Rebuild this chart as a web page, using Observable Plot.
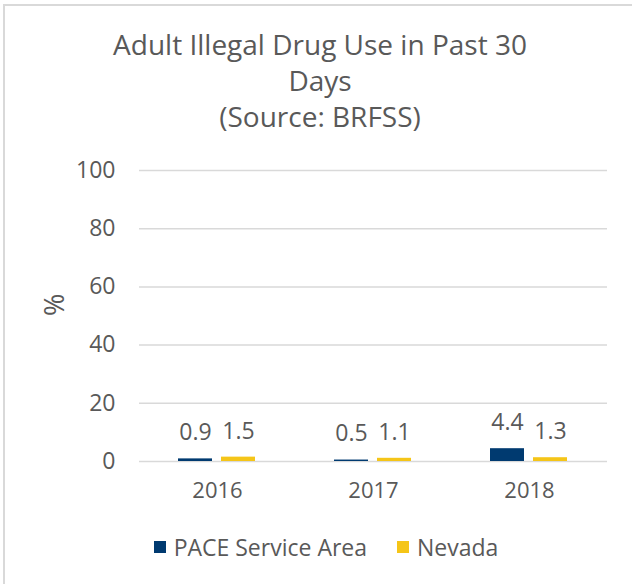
<!DOCTYPE html>
<html>
<head>
<meta charset="utf-8">
<script src="https://cdn.jsdelivr.net/npm/d3@7"></script>
<script src="https://cdn.jsdelivr.net/npm/@observablehq/plot@0.6"></script>
<style>
  html, body { margin: 0; padding: 0; background: #fff; }
  body { width: 632px; height: 584px; position: relative; overflow: hidden; font-family: "Open Sans", sans-serif; color: #595959; }
  #frame { position: absolute; left: 3px; top: 4px; width: 700px; height: 700px; border: 2px solid #d9d9d9; box-sizing: border-box; }
  #title { position: absolute; left: 0; top: 26px; width: 640px; text-align: center; font-size: 28px; line-height: 36px; }
  #chart { position: absolute; left: 0; top: 140px; }
  #legend { position: absolute; left: 0; top: 531px; width: 652px; display: flex; justify-content: center; gap: 30px; font-size: 23px; }
  .item { display: flex; align-items: center; gap: 8px; }
  .sw { width: 12px; height: 12px; display: inline-block; }
</style>
</head>
<body>
<div id="frame"></div>
<div id="title">Adult Illegal Drug Use in Past 30<br>Days<br>(Source: BRFSS)</div>
<div id="chart"></div>
<div id="legend"></div>
<script>
const years = ["2016", "2017", "2018"];
const series = ["PACE Service Area", "Nevada"];
const paceValues = [0.9, 0.5, 4.4];
const nevadaValues = [1.5, 1.1, 1.3];
const colors = ["#003A70", "#F5C518"];
const yTicks = [0, 20, 40, 60, 80, 100];

const data = [];
years.forEach((yr, i) => {
  data.push({year: yr, series: series[0], value: paceValues[i]});
  data.push({year: yr, series: series[1], value: nevadaValues[i]});
});

const chart = Plot.plot({
  width: 632,
  height: 371,
  marginLeft: 139,
  marginRight: 25,
  marginTop: 30,
  marginBottom: 50,
  style: {fontFamily: "Open Sans, sans-serif", fontSize: "22px", color: "#595959", background: "transparent"},
  fx: {domain: years, padding: 0, label: null, axis: "bottom", tickSize: 0, tickPadding: 21},
  x: {domain: series, paddingInner: 0.2, paddingOuter: 0.873, axis: null},
  y: {domain: [0, 100], ticks: yTicks, label: null},
  color: {domain: series, range: colors},
  marks: [
    Plot.ruleY(yTicks, {stroke: "#d9d9d9", strokeWidth: 1.5}),
    Plot.axisY({ticks: yTicks, tickSize: 0, tickPadding: 24, fontSize: 23, label: null}),
    Plot.barY(data, {fx: "year", x: "series", y: "value", fill: "series"}),
    Plot.text(data, {fx: "year", x: "series", y: "value", text: d => d.value.toFixed(1), dy: -26, fontSize: 23, fill: "#595959"}),
    Plot.text(["%"], {frameAnchor: "left", dx: -84, rotate: -90, fontSize: 27, fill: "#595959", facet: "super"})
  ]
});
document.getElementById("chart").appendChild(chart);

const legend = document.getElementById("legend");
series.forEach((s, i) => {
  const item = document.createElement("span");
  item.className = "item";
  const sw = document.createElement("span");
  sw.className = "sw";
  sw.style.background = colors[i];
  item.appendChild(sw);
  item.appendChild(document.createTextNode(s));
  legend.appendChild(item);
});
</script>
</body>
</html>
